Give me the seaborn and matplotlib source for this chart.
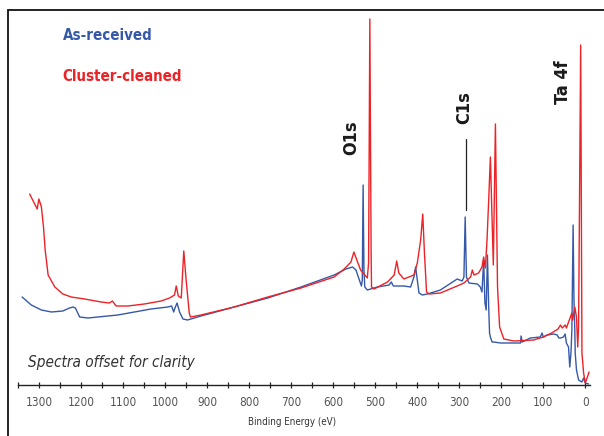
import numpy as np
import pandas as pd
import seaborn as sns
import matplotlib.pyplot as plt
from matplotlib import font_manager
from matplotlib.patches import Rectangle

# Survey spectra (binding energy in eV, intensity in offset a.u.)
blue_be = [1341, 1319, 1295, 1271, 1244, 1228, 1220, 1214, 1204, 1184, 1113, 1034, 994, 985,
           980, 977, 972, 966, 958, 947, 915, 836, 756, 677, 598, 570, 554, 546, 538, 533,
           531, 529, 527, 525, 519, 495, 467, 462, 457, 432, 416, 408, 404, 400, 396, 388,
           376, 345, 305, 293, 289, 286, 283, 277, 257, 250, 246, 242, 239, 236, 233, 230,
           228, 226, 222, 218, 202, 154, 153, 150, 131, 107, 103, 100, 91, 75, 67, 63, 59,
           52, 48, 45, 40, 37, 34, 32, 29, 27, 25, 24, 21, 16, 8, 4, 0, -8]
blue_int = [88, 80, 75, 73, 74, 77, 78, 77, 68, 67, 70, 76, 78, 79,
            73, 77, 82, 73, 66, 65, 69, 78, 87, 98, 110, 116, 118, 115, 105, 99,
            105, 200, 115, 98, 95, 98, 100, 103, 99, 99, 98, 108, 118, 105, 92, 90,
            91, 95, 106, 104, 108, 168, 108, 102, 101, 98, 93, 125, 82, 75, 130, 78,
            52, 48, 43, 43, 42, 42, 49, 43, 47, 48, 52, 48, 50, 51, 50, 47, 47,
            48, 51, 42, 38, 18, 33, 55, 160, 85, 55, 32, 15, 5, 3, 7, 2, 1]

red_be = [1323, 1305, 1301, 1295, 1290, 1286, 1279, 1263, 1244, 1224, 1192, 1153, 1133, 1126,
          1117, 1089, 1050, 1010, 990, 978, 974, 969, 962, 956, 951, 943, 940, 915, 836, 756,
          677, 598, 574, 558, 551, 544, 535, 525, 519, 516, 513, 510, 509, 503, 471, 455,
          449, 444, 432, 408, 400, 392, 387, 383, 378, 372, 345, 305, 289, 273, 269, 265,
          254, 246, 242, 238, 234, 230, 226, 219, 214, 209, 204, 194, 170, 123, 100, 80,
          65, 59, 55, 48, 45, 32, 30, 25, 21, 18, 16, 11, 8, 4, 0, -5, -9]
red_int = [191, 176, 186, 178, 158, 135, 110, 98, 91, 88, 86, 83, 82, 84,
           79, 79, 81, 84, 87, 90, 99, 89, 87, 134, 108, 72, 68, 70, 78, 88,
           97, 108, 116, 123, 133, 125, 115, 110, 107, 122, 366, 135, 98, 96, 103, 110,
           124, 112, 106, 110, 122, 145, 171, 132, 93, 91, 92, 99, 102, 108, 115, 110,
           112, 118, 128, 117, 145, 185, 228, 120, 261, 98, 58, 46, 44, 45, 48, 52,
           56, 60, 57, 60, 57, 72, 65, 78, 68, 38, 58, 340, 32, 12, 2, 8, 13]

# peak labels: text, energy, text height; C1s gets a marker line
peak_labels = ["O1s", "C1s", "Ta 4f"]
peak_label_be = [558, 289, 54]
peak_label_y = [247, 277, 303]
c1s_line_be = 285
c1s_line_y = [175, 246]

ticks = list(range(0, 1301, 100))
minor_ticks = list(range(50, 1351, 100))

blue = "#3559a8"
red = "#ec2227"

sns.set_theme(style="white")
plt.rcParams["font.family"] = ["DejaVu Sans"]
# use the condensed cut of DejaVu when it is there
has_cond = any("Condensed" in f.fname and "DejaVu" in f.fname
               for f in font_manager.fontManager.ttflist)
stretch = "condensed" if has_cond else "normal"
plt.rcParams["font.stretch"] = stretch

fig = plt.figure(figsize=(6.04, 4.36), dpi=100)
W, H = 604, 436
ax = fig.add_axes([18.3 / W, (H - 385) / H, (589.5 - 18.3) / W, 373 / H])

df_blue = pd.DataFrame({"be": blue_be, "counts": blue_int})
df_red = pd.DataFrame({"be": red_be, "counts": red_int})
sns.lineplot(data=df_blue, x="be", y="counts", sort=False, estimator=None,
             color=blue, lw=1.0, ax=ax)
sns.lineplot(data=df_red, x="be", y="counts", sort=False, estimator=None,
             color=red, lw=1.0, ax=ax)

ax.set_xlim(1350, -10)
ax.set_ylim(0, 373)
for s in ["top", "right", "left"]:
    ax.spines[s].set_visible(False)
ax.spines["bottom"].set_color("#222222")
ax.spines["bottom"].set_linewidth(1.0)
ax.set_yticks([])
ax.set_ylabel("")
ax.set_xticks(ticks)
ax.set_xticks(minor_ticks, minor=True)
ax.tick_params(axis="x", which="both", direction="inout", length=4.5, width=0.9,
               colors="#222222", bottom=True, pad=6)
ax.tick_params(axis="x", labelsize=8.5, labelcolor="#555555")
for t in ax.get_xticklabels():
    t.set_fontstretch(stretch)
ax.set_xlabel("Binding Energy (eV)", fontsize=7, color="#333333", labelpad=6,
              fontstretch=stretch)
ax.xaxis.set_label_coords(0.479, -0.085)

for lab, e, y in zip(peak_labels, peak_label_be, peak_label_y):
    ax.text(e, y, lab, rotation=90, ha="center", va="center", fontsize=13,
            fontweight="bold", color="#1a1a1a", fontstretch=stretch)
ax.plot([c1s_line_be, c1s_line_be], c1s_line_y, color="#222222", lw=0.9)

fig.text(62.7 / W, 1 - 35 / H, "As-received", color=blue, fontsize=10.8,
         fontweight="bold", va="center", ha="left", fontstretch=stretch)
fig.text(62.7 / W, 1 - 76 / H, "Cluster-cleaned", color=red, fontsize=10.8,
         fontweight="bold", va="center", ha="left", fontstretch=stretch)
fig.text(28 / W, 1 - 363 / H, "Spectra offset for clarity", color="#333333",
         fontsize=11, style="italic", va="center", ha="left", fontstretch=stretch)

# outer frame, cut off at the right and bottom
fig.patches.append(Rectangle((8 / W, -0.1), 1.2, 1.1 - 10 / H,
                             transform=fig.transFigure, fill=False,
                             edgecolor="#111111", lw=1.3))

fig.savefig("out.png", dpi=100)
